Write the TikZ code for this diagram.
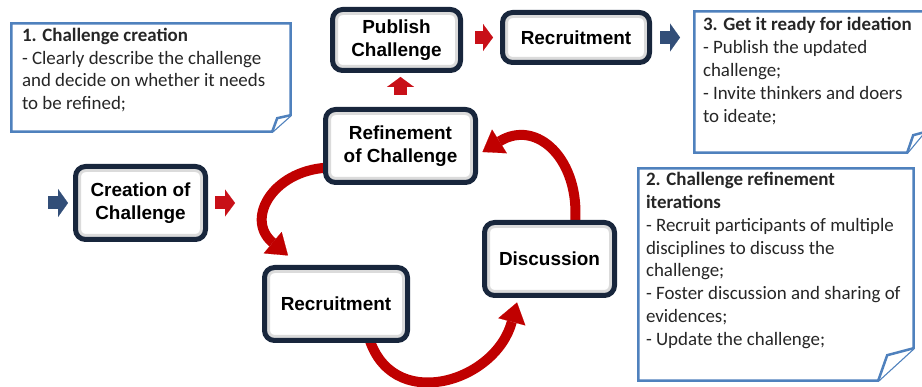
\documentclass[tikz,border=0pt]{standalone}
\usepackage{fontspec}
\setmainfont{Carlito}
\newfontfamily\arialfont{Liberation Sans}
\usetikzlibrary{arrows.meta,backgrounds}

\begin{document}
\begin{tikzpicture}[>=latex,line join=bevel,
  stage/.style={draw=stagecol, line width=5bp, rounded corners=10bp, fill=white,
    align=center, inner sep=0pt, font=\arialfont\bfseries\fontsize{19}{23}\selectfont,
    path picture={\draw[black!14, line width=11bp, rounded corners=10bp]
      (path picture bounding box.south west) rectangle (path picture bounding box.north east);}},
  notearea/.style={inner sep=0pt},
  noteline/.style={draw=notecol, line width=2.5bp, fill=white, line join=miter},
  notetext/.style={anchor=north west, align=left, inner sep=0pt, text=black!85,
    font=\fontsize{19}{22.5}\selectfont},
  redbar/.style={draw=barred, line width=13bp, -{Triangle[length=10bp,width=27bp,line width=0.1bp]}},
  bluebar/.style={draw=barblue, line width=13bp, -{Triangle[length=10bp,width=28bp,line width=0.1bp]}},
  cyclearc/.style={draw=cyclered, line width=10bp, -{Triangle[length=20bp,width=28bp,line width=0.1bp]}},
]
  \definecolor{stagecol}{RGB}{24,38,60}
  \definecolor{notecol}{RGB}{79,129,189}
  \definecolor{barred}{RGB}{200,16,24}
  \definecolor{barblue}{RGB}{50,78,120}
  \definecolor{cyclered}{RGB}{192,0,0}
  \useasboundingbox (0bp,0bp) rectangle (922bp,387bp);
%%
  % Node: Creation of Challenge
  \node[stage, minimum width=130bp, minimum height=73bp] (create) at (140.5bp,184bp) {Creation of\\Challenge};
  % Node: Refinement of Challenge
  \node[stage, minimum width=150bp, minimum height=73bp] (refine) at (400.5bp,241bp) {Refinement\\of Challenge};
  % Node: Publish Challenge
  \node[stage, minimum width=128bp, minimum height=61bp] (publish) at (396.5bp,347bp) {Publish\\Challenge};
  % Node: Recruitment (top)
  \node[stage, minimum width=147bp, minimum height=50bp] (recruitA) at (576bp,349.5bp) {Recruitment};
  % Node: Discussion
  \node[stage, minimum width=130bp, minimum height=73bp] (discuss) at (549.5bp,128bp) {Discussion};
  % Node: Recruitment (cycle)
  \node[stage, minimum width=143bp, minimum height=73bp] (recruitB) at (336bp,83bp) {Recruitment};
%%
  % Edge: start -> Creation of Challenge
  \coordinate (entry) at (48bp,184bp);
  \draw[bluebar] (entry) -- ([xshift=-5bp]create.west);
  % Edge: Creation of Challenge -> cycle
  \coordinate (cyclein) at (235bp,184bp);
  \draw[redbar] ([xshift=7bp]create.east) -- (cyclein);
  % Edge: Refinement of Challenge -> Publish Challenge
  \draw[redbar] ([yshift=12bp]refine.north) -- ([yshift=-4bp]refine.north |- publish.south);
  % Edge: Publish Challenge -> Recruitment
  \draw[redbar] ([xshift=12bp]publish.east |- recruitA.west) -- ([xshift=-7bp]recruitA.west);
  % Edge: Recruitment -> ideation
  \coordinate (exit) at (680bp,349.5bp);
  \draw[bluebar] ([xshift=8bp]recruitA.east) -- (exit);
%%
\begin{scope}[on background layer]
  % Edge: Refinement of Challenge -> Recruitment
  \draw[cyclearc] ([shift={(9.5bp,17.5bp)}]refine.south west) to[out=180,in=140,looseness=1.5] ([shift={(-48bp,9.5bp)}]recruitB.north);
  % Edge: Recruitment -> Discussion
  \draw[cyclearc] ([shift={(32bp,8.5bp)}]recruitB.south) to[out=-75,in=255,looseness=1.4] ([shift={(-32.5bp,-4.5bp)}]discuss.south);
  % Edge: Discussion -> Refinement of Challenge
  \draw[cyclearc] ([shift={(25.5bp,-3.5bp)}]discuss.north) to[out=85,in=32,looseness=1.4] ([shift={(4.5bp,-6bp)}]refine.east);
\end{scope}
%%
  % Node: note 1
\begin{scope}
  \node[notearea, minimum width=279bp, minimum height=108bp] (note1) at (151bp,309.5bp) {};
  \draw[noteline] (note1.north west) -- (note1.north east) -- ([yshift=16.5bp]note1.south east)
    -- ([xshift=-18.5bp]note1.south east) -- (note1.south west) -- cycle;
  \draw[noteline] ([yshift=16.5bp]note1.south east) -- ([shift={(-13.5bp,13.5bp)}]note1.south east) -- ([xshift=-18.5bp]note1.south east);
  \node[notetext] (note1txt) at ([shift={(10.5bp,-5bp)}]note1.north west)
    {\textbf{1. Challenge creation}\\- Clearly describe the challenge\\and decide on whether it needs\\to be refined;};
\end{scope}
  % Node: note 3
\begin{scope}
  \node[notearea, minimum width=229.5bp, minimum height=141bp] (note3) at (809.25bp,305bp) {};
  \draw[noteline] (note3.north west) -- (note3.north east) -- ([yshift=20.5bp]note3.south east)
    -- ([xshift=-17bp]note3.south east) -- (note3.south west) -- cycle;
  \draw[noteline] ([yshift=20.5bp]note3.south east) -- ([shift={(-11bp,17.5bp)}]note3.south east) -- ([xshift=-17bp]note3.south east);
  \node[notetext, font=\fontsize{19}{23}\selectfont] (note3txt) at ([shift={(8.5bp,-6bp)}]note3.north west)
    {\textbf{3. Get it ready for ideation}\\- Publish the updated\\challenge;\\- Invite thinkers and doers\\to ideate;};
\end{scope}
  % Node: note 2
\begin{scope}
  \node[notearea, minimum width=275bp, minimum height=212bp] (note2) at (776bp,112.5bp) {};
  \draw[noteline] (note2.north west) -- (note2.north east) -- ([yshift=32.5bp]note2.south east)
    -- ([xshift=-35.5bp]note2.south east) -- (note2.south west) -- cycle;
  \draw[noteline] ([yshift=32.5bp]note2.south east) -- ([shift={(-26.5bp,25.5bp)}]note2.south east) -- ([xshift=-35.5bp]note2.south east);
  \node[notetext, font=\fontsize{19}{23}\selectfont] (note2txt) at ([shift={(7.5bp,-3.5bp)}]note2.north west)
    {\textbf{2. Challenge refinement}\\\textbf{iterations}\\- Recruit participants of multiple\\disciplines to discuss the\\challenge;\\- Foster discussion and sharing of\\evidences;\\- Update the challenge;};
\end{scope}
%
\end{tikzpicture}
\end{document}
